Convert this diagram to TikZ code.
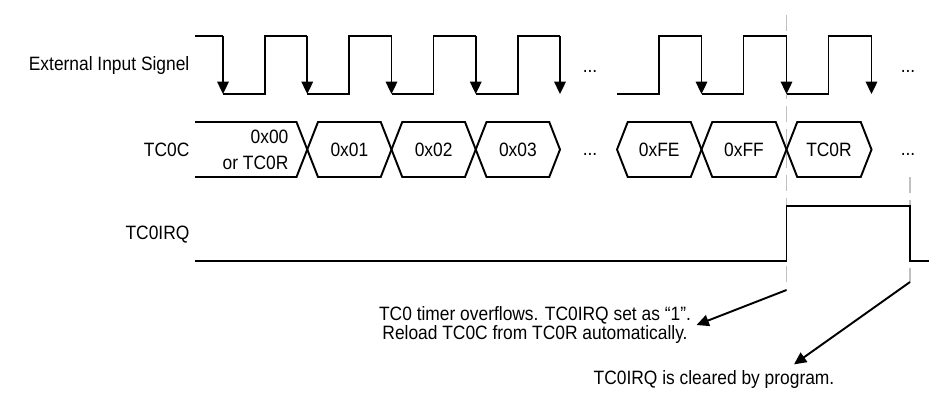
\documentclass[tikz,border=0pt]{standalone}
\usepackage{fontspec}
\setmainfont{Liberation Sans}[FakeStretch=0.9]
\usetikzlibrary{arrows.meta,positioning}
\definecolor{guide}{HTML}{C0C0C0}
\tikzset{sig/.style={line width=1.1pt,line join=miter}}
\tikzset{falling/.style={sig,-{Triangle[length=7pt,width=6.5pt]}}}
\tikzset{guideline/.style={guide,line width=0.9pt,dash pattern=on 9pt off 4pt}}
\tikzset{lbl/.style={font=\fontsize{11}{11.3}\selectfont,inner sep=3pt}}

\begin{document}
\begin{tikzpicture}[x=0.02cm,y=-0.02cm]
\useasboundingbox (0,0) rectangle (929,392);
% \draw[help lines,step=50] (0,0) grid (929,392);
\draw[guideline] (786.5,15) -- (786.5,290) coordinate (ovfmark);
\draw[guideline] (910,177) -- (910,282) coordinate (clrmark);
%
\node (lext) [lbl,anchor=east] at (195,66) {External Input Signel};
\node (ltc) [lbl,anchor=east] at (195,150) {TC0C};
\node (lirq) [lbl,anchor=east] at (195,235) {TC0IRQ};
% external input
\draw[sig] (195,36) -- (223,36);
\foreach \k in {0,...,3}
  \draw[sig] ({223+\k*84.25},94) -- ++(42,0) |- ({223+(\k+1)*84.25},36);
\foreach \k in {0,...,4}
  \draw[falling] ({223+\k*84.25},36) -- ++(0,58);
\draw[sig] (617,94) -- (659,94) |- (701.5,36);
\foreach \k in {0,1}
  \draw[sig] ({701.5+\k*85},94) -- ++(42,0) |- ({701.5+(\k+1)*85},36);
\foreach \k in {0,1,2}
  \draw[falling] ({701.5+\k*85},36) -- ++(0,58);
\node (extdots) [lbl,anchor=base] at (590,72) {...};
\node (extdotsb) [lbl,anchor=base] at (908,72) {...};
% TC0C
\draw[sig] (195,122) -- (296.5,122) -- (307.25,149.5) -- (296.5,177) -- (195,177);
\node (vinit) [lbl,anchor=east] at (294,137) {0x00};
\node (vinitb) [lbl,anchor=east] at (294,163) {or TC0R};
\foreach \a/\b/\t [count=\i] in {307.25/391.5/0x01,391.5/475.75/0x02,475.75/560/0x03,617/701.5/0xFE,701.5/786.5/0xFF,786.5/871.5/TC0R}
{
  \draw[sig] (\a,149.5) -- ({\a+10.75},122) -- ({\b-10.75},122) -- (\b,149.5) -- ({\b-10.75},177) -- ({\a+10.75},177) -- cycle;
  \node (v\i) [lbl] at ({(\a+\b)/2},149.5) {\t};
}
\node (tcdots) [lbl,anchor=base] at (590,155) {...};
\node (tcdotsb) [lbl,anchor=base] at (908,155) {...};
% TC0IRQ
\draw[sig] (195,261) -- (786.5,261) |- (910,206) |- (929,261);
%
\node (ovf) [lbl,align=center] at (535,325) {TC0 timer overflows. TC0IRQ set as “1”.\\Reload TC0C from TC0R automatically.};
\node (clr) [lbl] at (714,379) {TC0IRQ is cleared by program.};
\draw[falling] (ovfmark) -- (ovf.east);
\draw[falling] (clrmark) -- ([xshift=1.6cm]clr.north);
\end{tikzpicture}
\end{document}
